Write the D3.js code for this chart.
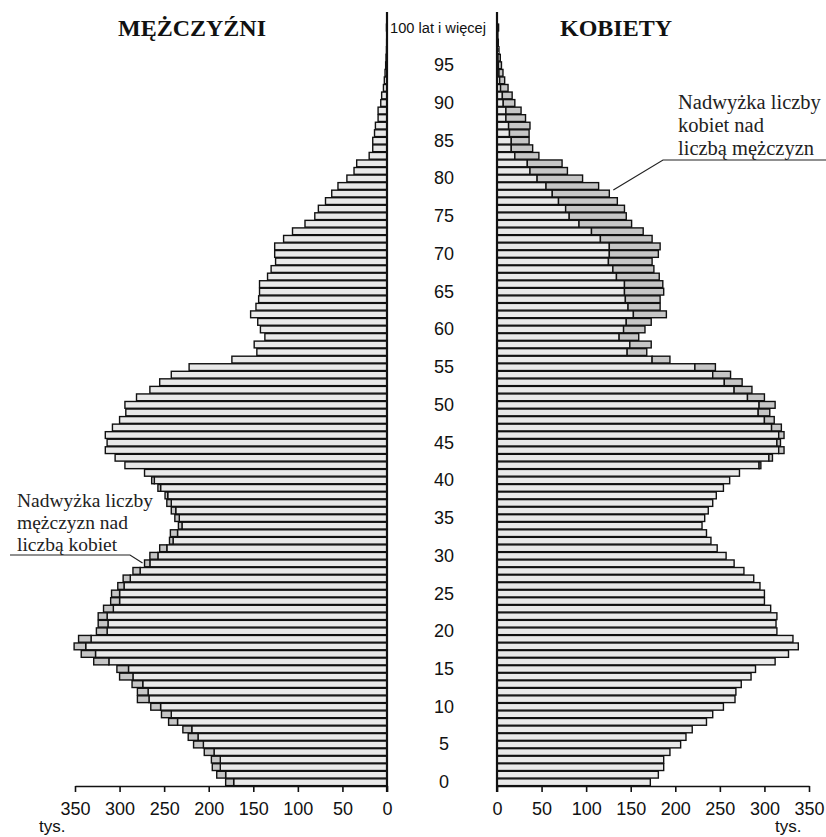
<!DOCTYPE html>
<html>
<head>
<meta charset="utf-8">
<script src="https://cdn.jsdelivr.net/npm/d3@7"></script>
<style>
  html, body { margin: 0; padding: 0; background: #fff; }
  svg { display: block; }
  .num { font-family: 'Liberation Sans Narrow', 'Arial Narrow', 'Liberation Sans', sans-serif; font-stretch: condensed; }
  .serif { font-family: 'Liberation Serif', 'Times New Roman', serif; }
</style>
</head>
<body>
<svg id="chart" width="826" height="837"></svg>
<script>
// ---- data (thousands of people, by single year of age 0..100) ----
const ages = d3.range(0, 101);
const male = [181,191,196,197,205,217,223,229,245,253,
  265,280,280,286,300,303,329,343,351,346,
  326,324,324,318,310,309,302,296,285,272,
  266,255,244,243,234,238,242,247,249,257,
  264,272,294,305,316,314,316,308,300,293,
  294,281,266,255,242,222,174,146,149,137,
  142,145,153,147,144,143,143,134,130,125,
  126,126,116,106,92,81,77,69,62,55,
  45,37,34,20,16,16,14,13,10,10,
  7,6,4,3,2.2,1.5,1.1,0.6,0.4,0.3,0.6];
const female = [172,181,187,187,194,206,212,219,235,242,
  254,267,268,274,285,290,312,327,338,332,
  314,313,314,307,300,300,295,288,277,266,
  257,247,240,235,230,233,237,242,246,254,
  261,272,296,309,322,318,322,319,311,306,
  312,300,286,275,262,245,194,168,173,159,
  166,173,190,183,183,187,186,182,176,174,
  181,183,174,164,151,145,143,135,126,114,
  96,79,73,47,40,36,36,37,32,27,
  20,17,12.4,8.6,6.7,5,3.7,2.2,1.5,1,1.8];
const ageLabels = [0,5,10,15,20,25,30,35,40,45,50,55,60,65,70,75,80,85,90,95];
const topLabel = "100 lat i więcej";
const xTicks = [0,50,100,150,200,250,300,350];
const titles = {left: "MĘŻCZYŹNI", right: "KOBIETY"};
const noteRight = ["Nadwyżka liczby", "kobiet nad", "liczbą mężczyzn"];
const noteLeft = ["Nadwyżka liczby", "mężczyzn nad", "liczbą kobiet"];
const unit = "tys.";

// ---- layout ----
const svg = d3.select("#chart");
const axisY = 786;
const y = d3.scaleBand().domain(ages).range([axisY, axisY - 101 * 7.547]).paddingInner(0.1).paddingOuter(0.05);
const xL = d3.scaleLinear().domain([0, 350]).range([387, 75]);
const xR = d3.scaleLinear().domain([0, 350]).range([497, 809]);

const commonFill = "#e9e9e9";
const surplusFill = "#c6c6c6";
const sw = 1.4;

const rows = ages.map((a, i) => ({age: a, m: male[i], f: female[i]}));

// left (men)
const gL = svg.append("g");
gL.selectAll("rect.c").data(rows).join("rect")
  .attr("x", d => xL(Math.min(d.m, d.f)))
  .attr("y", d => y(d.age))
  .attr("width", d => xL(0) - xL(Math.min(d.m, d.f)))
  .attr("height", y.bandwidth())
  .attr("fill", commonFill).attr("stroke", "#111").attr("stroke-width", sw);
gL.selectAll("rect.s").data(rows.filter(d => d.m > d.f)).join("rect")
  .attr("x", d => xL(d.m))
  .attr("y", d => y(d.age))
  .attr("width", d => xL(d.f) - xL(d.m))
  .attr("height", y.bandwidth())
  .attr("fill", surplusFill).attr("stroke", "#111").attr("stroke-width", sw);

// right (women)
const gR = svg.append("g");
gR.selectAll("rect.c").data(rows).join("rect")
  .attr("x", xR(0))
  .attr("y", d => y(d.age))
  .attr("width", d => xR(Math.min(d.m, d.f)) - xR(0))
  .attr("height", y.bandwidth())
  .attr("fill", commonFill).attr("stroke", "#111").attr("stroke-width", sw);
gR.selectAll("rect.s").data(rows.filter(d => d.f > d.m)).join("rect")
  .attr("x", d => xR(d.m))
  .attr("y", d => y(d.age))
  .attr("width", d => xR(d.f) - xR(d.m))
  .attr("height", y.bandwidth())
  .attr("fill", surplusFill).attr("stroke", "#111").attr("stroke-width", sw);

// vertical zero lines
[xL(0), xR(0)].forEach(x => {
  svg.append("line").attr("x1", x).attr("x2", x).attr("y1", 12).attr("y2", axisY + 6)
    .attr("stroke", "#111").attr("stroke-width", 2.2);
});

// bottom axes
function styleAxis(g) {
  g.select(".domain").attr("stroke", "#111").attr("stroke-width", 1.6);
  g.selectAll(".tick line").attr("stroke", "#111").attr("stroke-width", 1.6);
  g.selectAll(".tick text").attr("class", "num").attr("font-size", 18).attr("fill", "#111").attr("dy", "1.05em");
}
svg.append("g").attr("transform", `translate(0,${axisY})`)
  .call(d3.axisBottom(xL).tickValues(xTicks).tickSize(6).tickSizeOuter(0).tickPadding(4))
  .call(styleAxis);
svg.append("g").attr("transform", `translate(0,${axisY})`)
  .call(d3.axisBottom(xR).tickValues(xTicks).tickSize(6).tickSizeOuter(0).tickPadding(4))
  .call(styleAxis);

// unit labels
svg.append("text").attr("class", "num").attr("x", 39).attr("y", 832).attr("font-size", 17).attr("fill", "#111").text(unit);
svg.append("text").attr("class", "num").attr("x", 775).attr("y", 832).attr("font-size", 17).attr("fill", "#111").text(unit);

// age labels
svg.selectAll("text.age").data(ageLabels).join("text")
  .attr("class", "num age")
  .attr("x", 444).attr("y", d => y(d) + y.bandwidth() / 2)
  .attr("text-anchor", "middle").attr("dominant-baseline", "central")
  .attr("font-size", 18).attr("fill", "#111")
  .text(d => d);
svg.append("text").attr("class", "num")
  .attr("x", 390).attr("y", y(100) + y.bandwidth() / 2)
  .attr("dominant-baseline", "central")
  .attr("font-size", 14).attr("fill", "#111")
  .attr("textLength", 96).attr("lengthAdjust", "spacingAndGlyphs")
  .text(topLabel);

// titles
svg.append("text").attr("class", "serif").attr("x", 192).attr("y", 36)
  .attr("text-anchor", "middle").attr("font-weight", "bold").attr("font-size", 24).attr("fill", "#111")
  .text(titles.left);
svg.append("text").attr("class", "serif").attr("x", 616).attr("y", 36)
  .attr("text-anchor", "middle").attr("font-weight", "bold").attr("font-size", 24).attr("fill", "#111")
  .text(titles.right);

// annotations
noteRight.forEach((t, i) => {
  svg.append("text").attr("class", "serif").attr("x", 678).attr("y", 109 + i * 23)
    .attr("font-size", 20.5).attr("fill", "#222").text(t);
});
svg.append("polyline")
  .attr("points", `${xR(female[78]) + 4},190 663,160 826,160`)
  .attr("fill", "none").attr("stroke", "#222").attr("stroke-width", 1.2);

noteLeft.forEach((t, i) => {
  svg.append("text").attr("class", "serif").attr("x", 17).attr("y", 507 + i * 22.2)
    .attr("font-size", 19.5).attr("fill", "#222").text(t);
});
svg.append("polyline")
  .attr("points", `10,555 130,555 ${xL(male[29]) - 2},563`)
  .attr("fill", "none").attr("stroke", "#222").attr("stroke-width", 1.2);
</script>
</body>
</html>
